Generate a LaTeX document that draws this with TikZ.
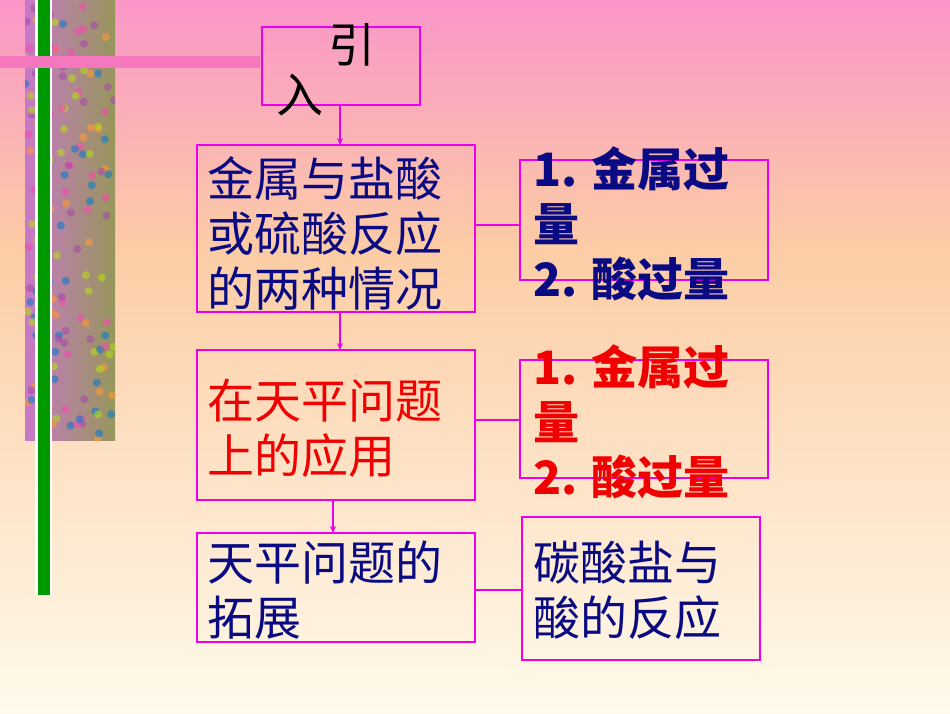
\documentclass[tikz,border=0pt]{standalone}
\usepackage{fontspec}
\setmainfont{Noto Sans CJK SC}
\usetikzlibrary{arrows.meta}
\definecolor{navy}{RGB}{10,10,130}
\definecolor{mag}{RGB}{235,0,235}
\definecolor{rd}{RGB}{240,0,0}
\definecolor{bgtop}{RGB}{250,150,200}
\definecolor{bgmid}{RGB}{252,205,165}
\definecolor{bgbot}{RGB}{255,250,235}
\definecolor{decl}{RGB}{200,120,200}
\definecolor{decr}{RGB}{150,150,90}
\definecolor{pinkbar}{RGB}{245,120,190}
\begin{document}
\begin{tikzpicture}[x=1pt,y=-1pt,
 box/.style={draw=mag,line width=2.5pt},
 conn/.style={draw=mag,line width=1.5pt},
 arr/.style={conn,-{Stealth[length=7pt,width=6pt]}},
 txt/.style={anchor=north west,align=left,font=\fontsize{47}{55}\selectfont,inner sep=0pt},
 btxt/.style={txt,font=\fontsize{46}{55}\selectfont\bfseries}]
\useasboundingbox (0,0) rectangle (950,713);
\shade[top color=bgtop,bottom color=bgmid] (0,0) rectangle (950,250);
\shade[top color=bgmid,bottom color=bgbot] (0,250) rectangle (950,713);
% decoration
\shade[left color=decl,right color=decr] (25,0) rectangle (115,440);
\begin{scope}
\clip (25,0) rectangle (115,440);
\pgfmathsetseed{7}
\foreach \i in {1,...,160}{
  \pgfmathsetmacro\px{25+90*rnd}\pgfmathsetmacro\py{440*rnd}
  \pgfmathsetmacro\ci{int(mod(\i,5))}
  \ifcase\ci \def\cc{magenta!70}\or\def\cc{yellow!70!green}\or\def\cc{cyan!60!blue}\or\def\cc{orange!80}\or\def\cc{violet!70}\fi
  \fill[\cc,opacity=0.6] (\px,\py) circle (4);
}
\end{scope}
\fill[white] (35,0) rectangle (52,595);
\fill[green!60!black] (38,0) rectangle (50,595);
\fill[pinkbar] (0,56) rectangle (260,68);
% nodes
\draw[box] (262,27) rectangle (420,105);
\node[txt,anchor=center] (yin) at (352,45) {引};
\node[txt,anchor=center] (ru) at (300,95) {入};
\coordinate (b1) at (340,105);
\draw[box] (197,145) rectangle (475,312);
\node[txt,text=navy] (t2) at (207,156) {金属与盐酸\\或硫酸反应\\的两种情况};
\draw[box] (197,350) rectangle (475,500);
\node[txt,text=rd] (t3) at (207,379) {在天平问题\\上的应用};
\draw[box] (197,533) rectangle (475,642);
\node[txt,text=navy] (t4) at (207,541) {天平问题的\\拓展};
\draw[box] (520,160) rectangle (768,280);
\node[btxt,text=navy] (r1) at (533,146) {1. 金属过\\量\\2. 酸过量};
\draw[box] (520,360) rectangle (768,478);
\node[btxt,text=rd] (r2) at (533,344) {1. 金属过\\量\\2. 酸过量};
\draw[box] (522,517) rectangle (760,660);
\node[txt,text=navy] (r3) at (533,541) {碳酸盐与\\酸的反应};
% connectors
\coordinate (a1) at (340,145); \draw[arr] (b1) -- (a1);
\coordinate (b2) at (340,312); \coordinate (a2) at (340,350); \draw[arr] (b2) -- (a2);
\coordinate (b3) at (333,500); \coordinate (a3) at (333,533); \draw[arr] (b3) -- (a3);
\coordinate (h1) at (475,225); \coordinate (h1e) at (520,225); \draw[conn] (h1) -- (h1e);
\coordinate (h2) at (475,420); \coordinate (h2e) at (520,420); \draw[conn] (h2) -- (h2e);
\coordinate (h3) at (475,590); \coordinate (h3e) at (522,590); \draw[conn] (h3) -- (h3e);
\end{tikzpicture}
\end{document}
